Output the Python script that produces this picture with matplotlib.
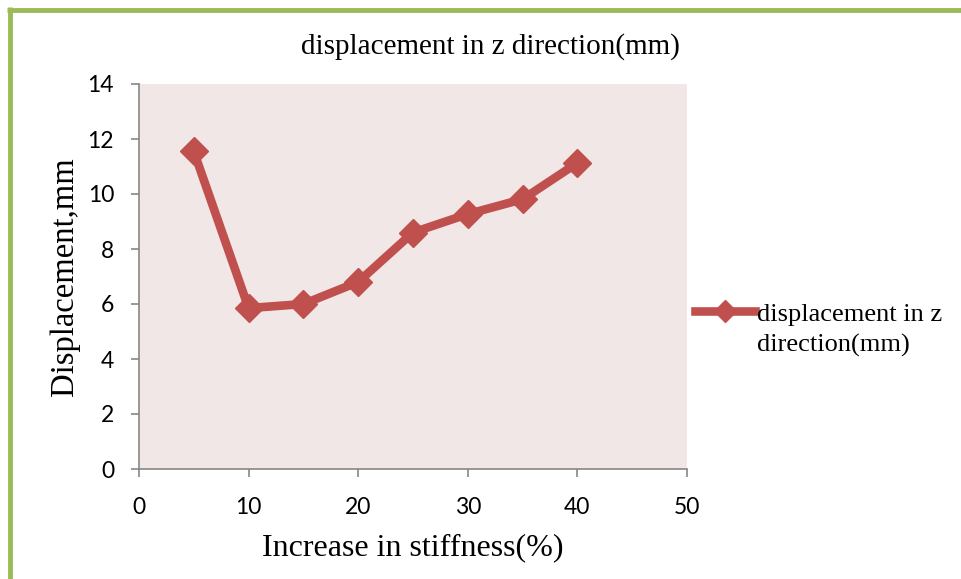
import matplotlib.pyplot as plt
from matplotlib.lines import Line2D

# data
stiffness = [5, 10, 15, 20, 25, 30, 35, 40]
displacement = [11.55, 5.85, 6.0, 6.8, 8.6, 9.27, 9.81, 11.13]
x_ticks = [0, 10, 20, 30, 40, 50]
y_ticks = [0, 2, 4, 6, 8, 10, 12, 14]

series_name = 'displacement in z direction(mm)'
legend_lines = ['displacement in z', 'direction(mm)']
red = '#C0504D'
grey = '#868686'
serif = 'Liberation Serif'
tick_font = 'Lato'

fig = plt.figure(figsize=(9.61, 5.79), dpi=100)
ax = fig.add_axes([139 / 961, 1 - 469 / 579, (687 - 139) / 961, (469 - 84) / 579])
ax.set_facecolor('#F2E7E7')

line, = ax.plot(stiffness, displacement, color=red, lw=6.2, marker='D', ms=14.5,
                mec=red, mfc=red, solid_joinstyle='round')

ax.set_xlim(0, 50)
ax.set_ylim(0, 14)
ax.set_xticks(x_ticks)
ax.set_yticks(y_ticks)
for s in ['top', 'right']:
    ax.spines[s].set_visible(False)
for s in ['left', 'bottom']:
    ax.spines[s].set_color(grey)
    ax.spines[s].set_linewidth(1.2)
ax.tick_params(axis='both', direction='out', length=6, width=1.2, color=grey,
               labelsize=16.5, pad=12)
ax.tick_params(axis='x', pad=14)
for lbl in ax.get_xticklabels() + ax.get_yticklabels():
    lbl.set_fontfamily(tick_font)

ax.set_xlabel('Increase in stiffness(%)', fontsize=23, family=serif, va='center')
ax.xaxis.set_label_coords(0.5, (469 - 548) / 385)
ax.set_ylabel('Displacement,mm', fontsize=23.5, family=serif, va='center')
ax.yaxis.set_label_coords((65 - 139) / 548, 0.5)
fig.text(490 / 961, 1 - 47 / 579, series_name, fontsize=21,
         family=serif, ha='center', va='center')

# legend: marker line next to the first text line, second line wraps below
blank = Line2D([], [], color='none')
leg = fig.legend([line, blank], legend_lines, loc='upper left',
                 bbox_to_anchor=(682 / 961, 1 - 289 / 579),
                 frameon=False, prop={'family': serif, 'size': 19},
                 handlelength=2.25, handletextpad=0.1, borderpad=0,
                 labelspacing=0.3, markerscale=0.75)

# green page border on the left and top edges
green = '#9BBB59'
fig.add_artist(Line2D([9.5 / 961, 9.5 / 961], [0, 1 - 7 / 579], color=green, lw=3.5,
                      transform=fig.transFigure, solid_capstyle='butt'))
fig.add_artist(Line2D([7 / 961, 1], [1 - 9.5 / 579, 1 - 9.5 / 579], color=green, lw=3.5,
                      transform=fig.transFigure, solid_capstyle='butt'))

fig.savefig('out.png', dpi=100, facecolor='white')
